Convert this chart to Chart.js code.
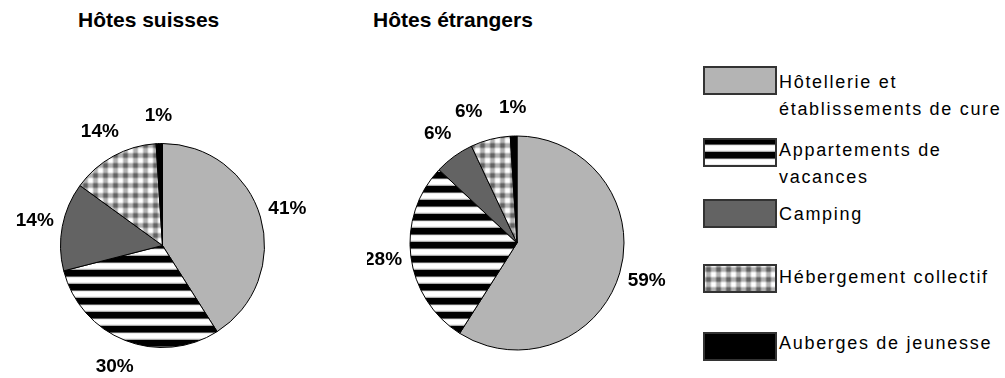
<!DOCTYPE html>
<html>
<head>
<meta charset="utf-8">
<script src="https://cdn.jsdelivr.net/npm/chart.js@4"></script>
<style>
  body { margin: 0; background: #fff; width: 1005px; height: 378px; overflow: hidden; position: relative; }
  canvas, .title, .legtext { position: absolute; }
  .title { font: bold 21px "Liberation Sans", Arial, sans-serif; line-height: 21px; color: #000; white-space: nowrap; }
  .legtext { font: 18px "Liberation Sans", Arial, sans-serif; letter-spacing: 1.7px; line-height: 27px; color: #000; white-space: nowrap; }
</style>
</head>
<body>
<div class="title" id="t0" style="left:78px; top:9px;"></div>
<div class="title" id="t1" style="left:373px; top:9px;"></div>
<canvas id="pie_suisses" width="325" height="318" style="left:0px; top:60px;"></canvas>
<canvas id="pie_etrangers" width="300" height="318" style="left:367px; top:60px;"></canvas>
<div id="legend"></div>
<script>
var titles = ['Hôtes suisses', 'Hôtes étrangers'],
    categories = ['Hôtellerie et établissements de cure', 'Appartements de vacances', 'Camping', 'Hébergement collectif', 'Auberges de jeunesse'],
    legend_lines = [['Hôtellerie et', 'établissements de cure'], ['Appartements de', 'vacances'], ['Camping'], ['Hébergement collectif'], ['Auberges de jeunesse']],
    swiss_values = [41, 30, 14, 14, 1],
    foreign_values = [59, 28, 6, 6, 1];

// fills: solid grey, black/white stripes, dark grey, grey check, black
function stripes(ctx) {
    var c = document.createElement('canvas');
    c.width = 8; c.height = 14;
    var g = c.getContext('2d'),
        rows = [0, 0, 0, 0, 0, 0, 90, 235, 255, 255, 255, 255, 235, 170];
    rows.forEach((v, y) => {
        g.fillStyle = 'rgb(' + v + ',' + v + ',' + v + ')';
        g.fillRect(0, y, 8, 1);
    });
    return ctx.createPattern(c, 'repeat');
}

function check(ctx) {
    var c = document.createElement('canvas');
    c.width = 10; c.height = 10;
    var g = c.getContext('2d'),
        band = [0, 0, 0.2, 0.7, 1, 1, 1, 0.7, 0.2, 0];
    for (var y = 0; y < 10; y++) {
        for (var x = 0; x < 10; x++) {
            var v = Math.round(255 - 78 * band[x] - 78 * band[y]);
            g.fillStyle = 'rgb(' + v + ',' + v + ',' + v + ')';
            g.fillRect(x, y, 1, 1);
        }
    }
    return ctx.createPattern(c, 'repeat');
}

function fills(ctx) {
    return ['#b4b4b4', stripes(ctx), '#636363', check(ctx), '#000000'];
}

// percentage labels outside each slice, pushed apart when they crowd
var pctLabels = {
    id: 'pctLabels',
    afterDatasetsDraw(chart) {
        var ctx = chart.ctx,
            meta = chart.getDatasetMeta(0),
            values = chart.data.datasets[0].data,
            pos = [];
        meta.data.forEach((arc, i) => {
            var p = arc.getProps(['x', 'y', 'startAngle', 'endAngle', 'outerRadius'], true),
                mid = (p.startAngle + p.endAngle) / 2,
                r = p.outerRadius + 28;
            pos.push({ x: p.x + Math.cos(mid) * r, y: p.y + Math.sin(mid) * r });
        });
        for (var i = pos.length - 2; i >= 0; i--) {
            var a = pos[i], b = pos[i + 1];
            if (Math.abs(a.y - b.y) < 20 && Math.abs(a.x - b.x) < 44) {
                a.x = b.x - 44;
            }
        }
        ctx.save();
        ctx.font = 'bold 19px "Liberation Sans", Arial, sans-serif';
        ctx.fillStyle = '#000';
        ctx.textAlign = 'center';
        ctx.textBaseline = 'middle';
        pos.forEach((p, i) => {
            ctx.fillText(values[i] + '%', p.x, p.y);
        });
        ctx.restore();
    }
};

function drawPie(id, values, radius, padTop) {
    var canvas = document.getElementById(id),
        ctx = canvas.getContext('2d');
    return new Chart(canvas, {
        type: 'pie',
        data: {
            labels: categories,
            datasets: [{
                data: values,
                backgroundColor: fills(ctx),
                borderColor: '#000',
                borderWidth: 1
            }]
        },
        options: {
            responsive: false,
            animation: false,
            devicePixelRatio: 1,
            radius: radius,
            layout: { padding: { top: padTop, bottom: 0, left: 0, right: 0 } },
            plugins: { legend: { display: false }, tooltip: { enabled: false } }
        },
        plugins: [pctLabels]
    });
}

document.getElementById('t0').textContent = titles[0];
document.getElementById('t1').textContent = titles[1];

drawPie('pie_suisses', swiss_values, 102, 53);
drawPie('pie_etrangers', foreign_values, 107, 48);

// legend: swatch + wrapped label per category
var legend = document.getElementById('legend'),
    swatch_tops = [66, 138, 199, 264, 332],
    text_tops = [69, 137, 201, 264, 330];

legend_lines.forEach((lines, i) => {
    var sw = document.createElement('canvas');
    sw.width = 74; sw.height = 29;
    sw.style.left = '703px';
    sw.style.top = swatch_tops[i] + 'px';
    legend.appendChild(sw);
    var g = sw.getContext('2d');
    g.fillStyle = fills(g)[i];
    g.fillRect(0, 0, 74, 29);
    g.strokeStyle = '#333';
    g.lineWidth = 2;
    g.strokeRect(1, 1, 72, 27);

    var t = document.createElement('div');
    t.className = 'legtext';
    t.style.left = '779px';
    t.style.top = text_tops[i] + 'px';
    t.innerHTML = lines.join('<br>');
    legend.appendChild(t);
});
</script>
</body>
</html>
